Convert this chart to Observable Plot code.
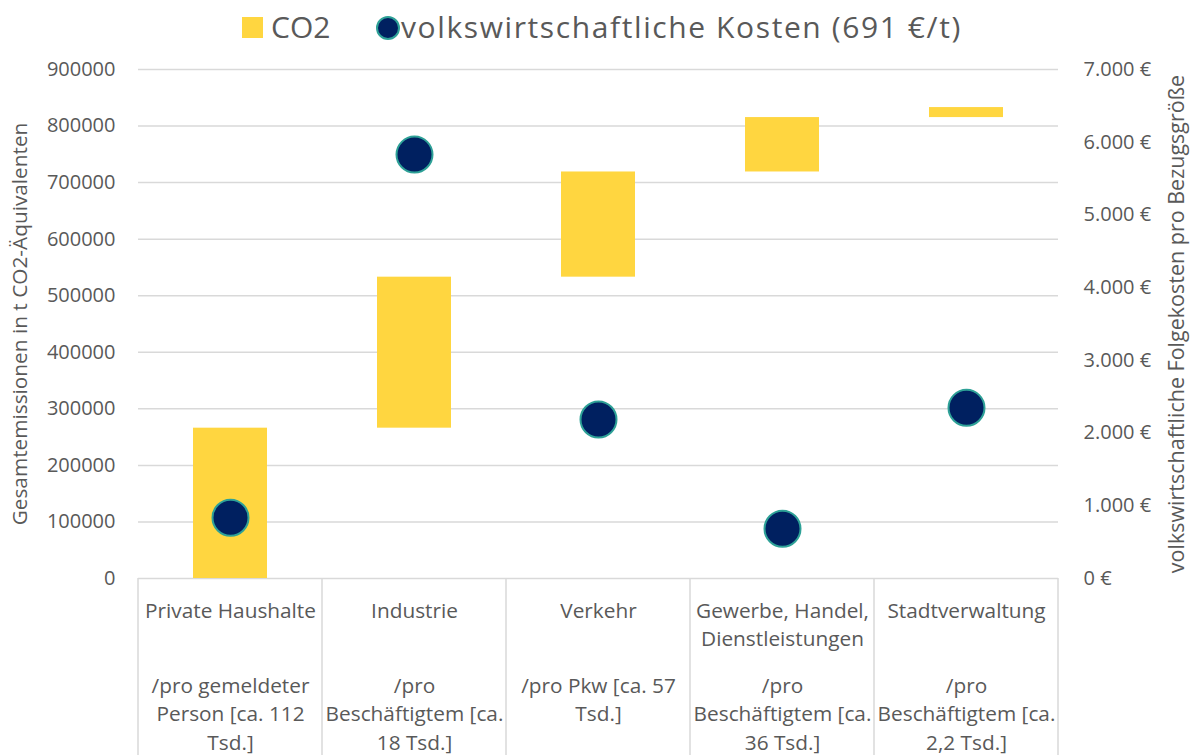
<!DOCTYPE html>
<html>
<head>
<meta charset="utf-8">
<script src="https://cdn.jsdelivr.net/npm/d3@7"></script>
<script src="https://cdn.jsdelivr.net/npm/@observablehq/plot@0.6"></script>
<style>
  body { margin: 0; background: #fff; font-family: "Open Sans", sans-serif; }
  #legend { position: relative; width: 1195px; height: 50px; color: #595959; font-size: 30px; line-height: 30px; }
  #legend .sq { position: absolute; left: 242px; top: 17px; width: 21px; height: 21px; background: #FFD640; }
  #legend .dt { position: absolute; left: 376px; top: 16px; width: 20px; height: 20px; border-radius: 50%; background: #002060; border: 2px solid #2ea197; }
  #legend .t1 { position: absolute; left: 271px; top: 12px; white-space: nowrap; }
  #legend .t2 { position: absolute; left: 401px; top: 12px; white-space: nowrap; letter-spacing: 1.6px; }
</style>
</head>
<body>
<div id="legend">
  <div class="sq"></div><span class="t1">CO2</span>
  <div class="dt"></div><span class="t2">volkswirtschaftliche Kosten (691 €/t)</span>
</div>
<div id="chart"></div>
<script>
const categories = ["Private Haushalte", "Industrie", "Verkehr", "Gewerbe, Handel, Dienstleistungen", "Stadtverwaltung"];
const nameLabels = ["Private Haushalte", "Industrie", "Verkehr", "Gewerbe, Handel,\nDienstleistungen", "Stadtverwaltung"];
const perLabels = ["/pro gemeldeter\nPerson [ca. 112\nTsd.]", "/pro\nBeschäftigtem [ca.\n18 Tsd.]", "/pro Pkw [ca. 57\nTsd.]", "/pro\nBeschäftigtem [ca.\n36 Tsd.]", "/pro\nBeschäftigtem [ca.\n2,2 Tsd.]"];
const co2 = [265800, 267000, 186000, 96200, 17700];        // t CO2-Äquivalente (Waterfall-Zuwachs)
const kosten = [836, 5830, 2187, 685, 2347];               // € pro Bezugsgröße
const leftTicks = [0, 100000, 200000, 300000, 400000, 500000, 600000, 700000, 800000, 900000];
const rightTicks = [0, 1000, 2000, 3000, 4000, 5000, 6000, 7000];
const leftMax = 900000, rightMax = 7000;
const k = leftMax / rightMax;

const ends = d3.cumsum(co2);
const data = categories.map((c, i) => ({
  cat: c, name: nameLabels[i], per: perLabels[i],
  start: i === 0 ? 0 : ends[i - 1], end: ends[i], cost: kosten[i]
}));

const de = d3.formatLocale({decimal: ",", thousands: ".", grouping: [3], currency: ["", " €"]});
const euro = de.format(",");

const H = 705;
const chart = Plot.plot({
  width: 1195,
  height: H,
  marginLeft: 138,
  marginRight: 137,
  marginTop: 19,
  marginBottom: 177,
  style: {fontFamily: "Open Sans", color: "#595959", background: "#fff", overflow: "visible"},
  x: {type: "band", domain: categories, padding: 0, axis: null},
  y: {domain: [0, leftMax], axis: null},
  marks: [
    Plot.gridY(leftTicks, {stroke: "#d9d9d9", strokeOpacity: 1, strokeWidth: 1.5}),
    Plot.axisY(leftTicks, {anchor: "left", tickSize: 0, tickPadding: 23, tickFormat: d3.format("d"), fontSize: 20, fill: "#595959", label: null}),
    Plot.axisY(rightTicks.map(v => v * k), {anchor: "right", tickSize: 0, tickPadding: 25, tickFormat: d => euro(Math.round(d / k)) + " €", fontSize: 20, fill: "#595959", label: null}),
    Plot.barY(data, {x: "cat", y1: "start", y2: "end", fill: "#FFD640", insetLeft: 55, insetRight: 55}),
    Plot.dot(data, {x: "cat", y: d => d.cost * k, r: 18, fill: "#002060", stroke: "#2ea197", strokeWidth: 2}),
    Plot.text(data, {x: "cat", frameAnchor: "bottom", text: "name", lineAnchor: "top", dy: 19, fontSize: 20.8, lineHeight: 1.36, fill: "#595959"}),
    Plot.text(data, {x: "cat", frameAnchor: "bottom", text: "per", lineAnchor: "top", dy: 94, fontSize: 20.8, lineHeight: 1.37, fill: "#595959"}),
    Plot.text(["Gesamtemissionen in t CO2-Äquivalenten"], {text: d => d, frameAnchor: "left", textAnchor: "middle", rotate: -90, dx: -118, fontSize: 20.8, fill: "#595959"}),
    Plot.text(["volkswirtschaftliche Folgekosten pro Bezugsgröße"], {text: d => d, frameAnchor: "right", textAnchor: "middle", rotate: -90, dx: 119, fontSize: 21.5, fill: "#595959"})
  ]
});

// category table separators, placed with the chart's own scales
const xs = chart.scale("x"), ys = chart.scale("y");
const bw = xs.bandwidth;
const edges = categories.map(c => xs.apply(c)).concat([xs.apply(categories[categories.length - 1]) + bw]);
const g = d3.select(chart).append("g").attr("stroke", "#d9d9d9").attr("stroke-width", 1.5);
edges.forEach(x => {
  g.append("line").attr("x1", x).attr("x2", x).attr("y1", ys.apply(0)).attr("y2", H);
});

document.getElementById("chart").append(chart);
</script>
</body>
</html>
